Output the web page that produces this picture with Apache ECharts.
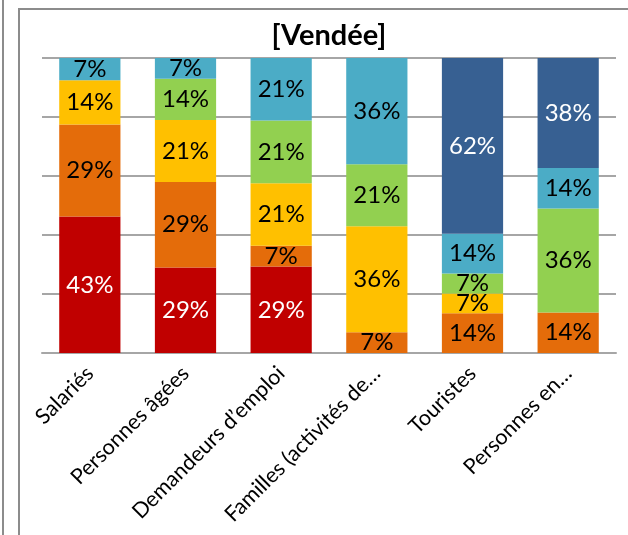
<!DOCTYPE html>
<html><head><meta charset="utf-8">
<script src="https://cdn.jsdelivr.net/npm/echarts@6/dist/echarts.min.js"></script>
<style>html,body{margin:0;padding:0;background:#fff}#c{width:628px;height:535px}</style>
</head><body><div id="c"></div>
<script>
const categories = ["Salariés", "Personnes âgées", "Demandeurs d’emploi", "Familles (activités de…", "Touristes", "Personnes en…"];
const seriesNames = ["Groupe 1", "Groupe 2", "Groupe 3", "Groupe 4", "Groupe 5", "Groupe 6"];
const s1 = [43, 29, 29, null, null, null];
const s2 = [29, 29, 7, 7, 14, 14];
const s3 = [14, 21, 21, 36, 7, null];
const s4 = [null, 14, 21, 21, 7, 36];
const s5 = [7, 7, 21, 36, 14, 14];
const s6 = [null, null, null, null, 62, 38];
const yTicks = [0, 20, 40, 60, 80, 100];

const allSeries = [s1, s2, s3, s4, s5, s6];
const colors = ["#C00000", "#E46C0A", "#FFC000", "#92D050", "#4BACC6", "#376092"];
const labelColors = ["#fff", "#000", "#000", "#000", "#000", "#fff"];
const totals = categories.map((_, i) => allSeries.reduce((a, s) => a + (s[i] || 0), 0));

const chart = echarts.init(document.getElementById('c'));
chart.setOption({
  animation: false,
  title: {
    text: "[Vendée]", left: 324, top: 16, textAlign: 'center',
    textStyle: {fontFamily: 'Lato', fontWeight: 'bold', fontSize: 29, color: '#000'}
  },
  grid: {left: 42, right: 12, top: 58, bottom: 182},
  xAxis: {
    type: 'category', data: categories,
    axisTick: {show: false},
    axisLine: {lineStyle: {color: '#A6A6A6', width: 2}},
    axisLabel: {rotate: 45, interval: 0, fontFamily: 'Lato', fontSize: 21.5, color: '#000', margin: 17}
  },
  yAxis: {
    type: 'value', min: yTicks[0], max: yTicks[yTicks.length - 1], interval: 20,
    axisLabel: {show: false}, axisLine: {show: false}, axisTick: {show: false},
    splitLine: {lineStyle: {color: '#A6A6A6', width: 2}}
  },
  series: allSeries.map((s, k) => ({
    name: seriesNames[k], type: 'bar', stack: 'all', barCategoryGap: '36%',
    itemStyle: {color: colors[k]},
    data: s.map((v, i) => v == null ? null : {value: v / totals[i] * 100, raw: v}),
    label: {
      show: true, position: 'inside', fontFamily: 'Lato', fontSize: 24, color: labelColors[k],
      formatter: p => p.data.raw + '%'
    }
  })),
  graphic: [
    {type: 'line', shape: {x1: 3, y1: 0, x2: 3, y2: 535}, style: {stroke: '#8C8C8C', lineWidth: 2}},
    {type: 'polyline', shape: {points: [[19, 535], [19, 9], [628, 9]]}, style: {stroke: '#8C8C8C', lineWidth: 2, fill: null}}
  ]
});
</script></body></html>
